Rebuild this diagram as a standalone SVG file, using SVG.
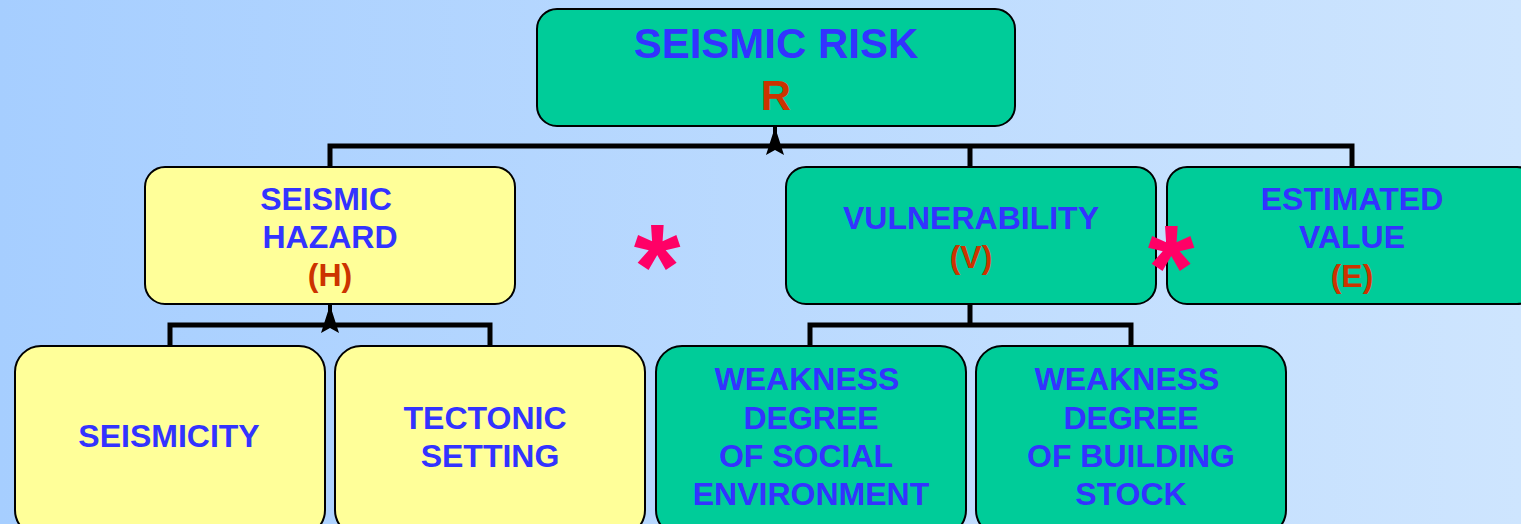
<svg xmlns="http://www.w3.org/2000/svg" width="1521" height="524" viewBox="0 0 1521 524">
<defs>
<linearGradient id="bg" x1="0" y1="0" x2="1" y2="0">
<stop offset="0" stop-color="#A6CEFF"/>
<stop offset="1" stop-color="#CEE5FE"/>
</linearGradient>
</defs>
<style>
.g{fill:#00CC99;stroke:#000;stroke-width:2}
.y{fill:#FFFF99;stroke:#000;stroke-width:2}
text{font-family:"Liberation Sans",Arial,sans-serif;font-weight:bold;text-anchor:middle}
.b{fill:#3333FF;font-size:32px}
.r{fill:#CC3300;font-size:32px}
.c{fill:none;stroke:#000;stroke-width:5;stroke-linejoin:miter}
.ah{fill:#000}
.st{fill:#FF0066;font-size:120px}
</style>
<rect width="1521" height="524" fill="url(#bg)"/>
<g id="connectors">
<path class="c" d="M330,167 V146 H1352 V167 M970,146 V167"/>
<path d="M775,126 V146" stroke="#000" stroke-width="4"/>
<path class="ah" d="M775,127 L784,155 L775,150 L766,155 Z"/>
<path class="c" d="M170,346 V325 H490 V346"/>
<path d="M330,305 V325" stroke="#000" stroke-width="4"/>
<path class="ah" d="M330,305 L339,333 L330,328 L321,333 Z"/>
<path class="c" d="M970,304 V325 M810,346 V325 H1131 V346"/>
</g>
<g id="risk">
<rect class="g" x="537" y="9" width="478" height="117" rx="20"/>
<text class="b" x="776" y="58" style="font-size:42px">SEISMIC RISK</text>
<text class="r" x="776" y="110" style="font-size:42px">R</text>
</g>
<g id="hazard">
<rect class="y" x="145" y="167" width="370" height="137" rx="20"/>
<text class="b" x="326" y="210">SEISMIC</text>
<text class="b" x="330" y="248">HAZARD</text>
<text class="r" x="330" y="286">(H)</text>
</g>
<g id="vulnerability">
<rect class="g" x="786" y="167" width="370" height="137" rx="20"/>
<text class="b" x="971" y="229">VULNERABILITY</text>
<text class="r" x="971" y="268">(V)</text>
</g>
<g id="value">
<rect class="g" x="1167" y="167" width="370" height="137" rx="20"/>
<text class="b" x="1352" y="210">ESTIMATED</text>
<text class="b" x="1352" y="248">VALUE</text>
<text class="r" x="1352" y="287">(E)</text>
</g>
<g id="seismicity">
<rect class="y" x="15" y="346" width="310" height="190" rx="26"/>
<text class="b" x="169" y="447">SEISMICITY</text>
</g>
<g id="tectonic">
<rect class="y" x="335" y="346" width="310" height="190" rx="26"/>
<text class="b" x="485" y="429">TECTONIC</text>
<text class="b" x="490" y="467">SETTING</text>
</g>
<g id="social">
<rect class="g" x="656" y="346" width="310" height="190" rx="26"/>
<text class="b" x="807" y="390">WEAKNESS</text>
<text class="b" x="811" y="429">DEGREE</text>
<text class="b" x="806" y="467">OF SOCIAL</text>
<text class="b" x="811" y="505">ENVIRONMENT</text>
</g>
<g id="building">
<rect class="g" x="976" y="346" width="310" height="190" rx="26"/>
<text class="b" x="1127" y="390">WEAKNESS</text>
<text class="b" x="1131" y="429">DEGREE</text>
<text class="b" x="1131" y="467">OF BUILDING</text>
<text class="b" x="1131" y="505">STOCK</text>
</g>
<g id="operators">
<text class="st" x="657" y="308">*</text>
<text class="st" x="1171" y="309">*</text>
</g>
</svg>
